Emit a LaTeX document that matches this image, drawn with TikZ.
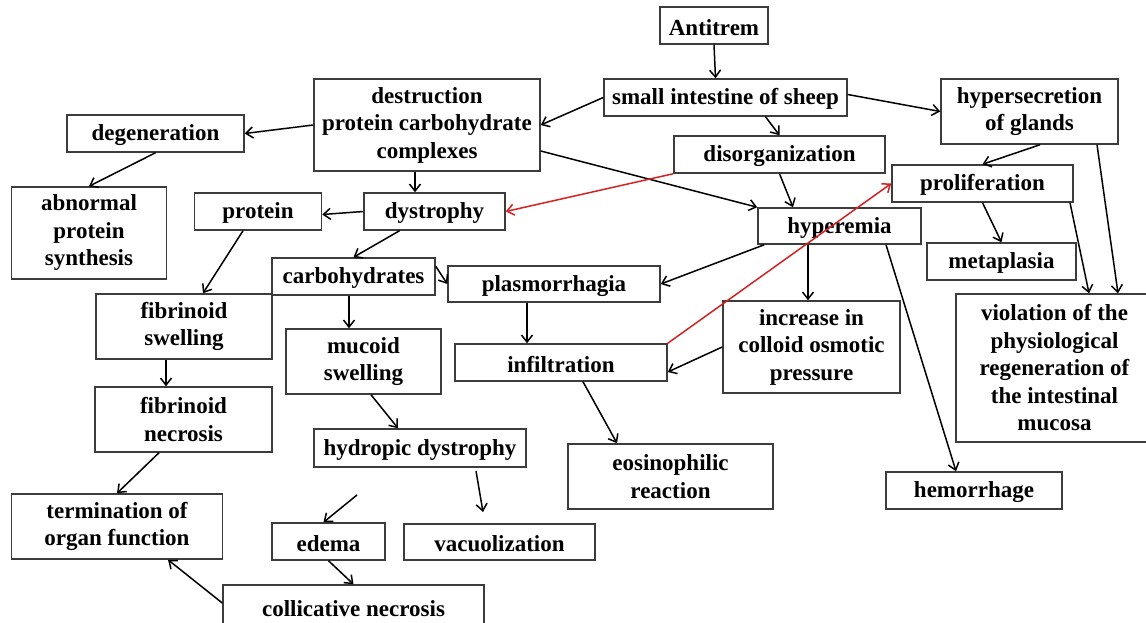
\documentclass[tikz,border=0pt]{standalone}
\usepackage{fontspec}
\setmainfont{Liberation Serif}
\usepackage{tikz}
\usetikzlibrary{positioning,calc,arrows.meta}
\usepackage{xcolor}
\definecolor{boxline}{HTML}{3C3C3C}
\definecolor{redline}{HTML}{D42222}
\tikzset{
  box/.style={draw=boxline,line width=1.5pt,fill=white,align=center,inner sep=2pt,
    font=\fontsize{23}{27.5}\selectfont\bfseries,
    execute at begin node={\rule{0pt}{0.86em}}},
  arr/.style={-{Straight Barb[length=7pt,width=11pt]},line width=1.5pt},
  redarr/.style={arr,draw=redline}
}
\begin{document}
\begin{tikzpicture}[x=1pt,y=-1pt]
      \useasboundingbox (0,0) rectangle (1146,623);
      \clip (0,0) rectangle (1146,623);
      \fill[white] (0,0) rectangle (1146,623);

      \node[box,minimum width=108pt,minimum height=37pt] (anti) at (714,25.5) {Antitrem};
      \node[box,minimum width=243pt,minimum height=37pt] (sis) at (725.5,97.5) {small intestine of sheep};
      \node[box,minimum width=226pt,minimum height=92pt] (destr) at (427,125) {destruction\\protein carbohydrate\\complexes};
      \node[box,minimum width=177pt,minimum height=37pt] (degen) at (155.5,133.5) {degeneration};
      \node[box,minimum width=155pt,minimum height=92pt] (abnorm) at (89,233) {abnormal\\protein\\synthesis};
      \node[box,minimum width=127pt,minimum height=37pt] (prot) at (258,211.5) {protein};
      \node[box,minimum width=141pt,minimum height=37pt] (dystr) at (434.5,211.5) {dystrophy};
      \node[box,minimum width=211pt,minimum height=37pt] (disorg) at (779.5,154.5) {disorganization};
      \node[box,minimum width=177pt,minimum height=65pt] (hypsec) at (1029.5,111.5) {hypersecretion\\of glands};
      \node[box,minimum width=181pt,minimum height=37pt] (prolif) at (982.5,183.5) {proliferation};
      \node[box,minimum width=163pt,minimum height=36pt] (hyper) at (839.5,226) {hyperemia};
      \node[box,minimum width=149pt,minimum height=37pt] (metapl) at (1001.5,261.5) {metaplasia};
      \node[box,minimum width=197pt,minimum height=148pt] (viol) at (1054.5,368) {violation of the\\physiological\\regeneration of\\the intestinal\\mucosa};
      \node[box,minimum width=176pt,minimum height=65pt] (fibsw) at (184,326.5) {fibrinoid\\swelling};
      \node[box,minimum width=163pt,minimum height=37pt] (carb) at (353.5,276.5) {carbohydrates};
      \node[box,minimum width=212pt,minimum height=36pt] (plasm) at (554,284) {plasmorrhagia};
      \node[box,minimum width=177pt,minimum height=65pt] (fibnec) at (183.5,419.5) {fibrinoid\\necrosis};
      \node[box,minimum width=155pt,minimum height=65pt] (mucsw) at (363.5,361.5) {mucoid\\swelling};
      \node[box,minimum width=212pt,minimum height=37pt] (infil) at (561,362.5) {infiltration};
      \node[box,minimum width=177pt,minimum height=92pt] (incr) at (811.5,347) {increase in\\colloid osmotic\\pressure};
      \node[box,minimum width=212pt,minimum height=38pt] (hydro) at (420,448) {hydropic dystrophy};
      \node[box,minimum width=205pt,minimum height=65pt] (eosin) at (670.5,476.5) {eosinophilic\\reaction};
      \node[box,minimum width=176pt,minimum height=37pt] (hemor) at (974,490.5) {hemorrhage};
      \node[box,minimum width=211pt,minimum height=65pt] (termin) at (117,526.5) {termination of\\organ function};
      \node[box,minimum width=113pt,minimum height=37pt] (edema) at (328.5,541.5) {edema};
      \node[box,minimum width=191pt,minimum height=36pt] (vacuol) at (499.5,542) {vacuolization};
      \node[box,minimum width=261pt,minimum height=44pt] (collic) at (353.5,607) {collicative necrosis};

      \coordinate (hv1) at (476,471);
      \coordinate (hv2) at (483,512);
      \coordinate (ed1) at (357,495);

      \draw[arr] (anti.south) -- ([xshift=-10pt]sis.north);
      \draw[arr] (sis.west) -- (destr.east);
      \draw[arr] ([yshift=3pt]sis.east) -- (hypsec.west);
      \draw[arr] ([xshift=40pt]sis.south) -- (disorg.north);
      \draw[arr] (destr.west) -- (degen.east);
      \draw[arr] ([xshift=-12pt]destr.south) -- ([xshift=-19.5pt]dystr.north);
      \draw[arr] ([yshift=-26pt]destr.east) -- (hyper.north west);
      \draw[arr] (degen.south) -- (abnorm.north);
      \draw[arr] (dystr.west) -- ([yshift=-3pt]prot.east);
      \draw[arr] ([xshift=-35pt]dystr.south) -- (carb.north);
      \draw[arr] ([xshift=-15pt]prot.south) -- ([xshift=19pt]fibsw.north);
      \draw[arr] ([yshift=-9pt]carb.north east) -- (plasm.west);
      \draw[arr] ([xshift=-4.5pt]carb.south) -- ([xshift=-14.5pt]mucsw.north);
      \draw[arr] ([xshift=-18pt]fibsw.south) -- ([xshift=-17.5pt]fibnec.north);
      \draw[arr] ([xshift=-24.5pt]fibnec.south) -- (termin.north);
      \draw[arr] ([xshift=7.5pt]mucsw.south) -- ([xshift=-22pt]hydro.north);
      \draw[arr] (hv1) -- (hv2);
      \draw[arr] (ed1) -- ([xshift=-5pt]edema.north);
      \draw[arr] (edema.south) -- (collic.north);
      \draw[arr] ([yshift=4pt]collic.west) -- ([xshift=51pt]termin.south);
      \draw[arr] ([xshift=10.5pt]hypsec.south) -- (prolif.north);
      \draw[arr] ([xshift=67.5pt]hypsec.south) -- ([xshift=63.5pt]viol.north);
      \draw[arr] (prolif.south) -- (metapl.north);
      \draw[arr] ([xshift=87.5pt]prolif.south) -- ([xshift=34.5pt]viol.north);
      \draw[arr] (disorg.south) -- ([xshift=-46.5pt]hyper.north);
      \draw[arr] ([xshift=7pt]hyper.south west) -- (plasm.east);
      \draw[arr] ([xshift=-31.5pt]hyper.south) -- ([xshift=-3.5pt]incr.north);
      \draw[arr] ([xshift=46.5pt]hyper.south) -- ([xshift=-18pt]hemor.north);
      \draw[arr] (incr.west) -- ([yshift=-9.5pt]infil.east);
      \draw[arr] ([xshift=-27pt]plasm.south) -- ([xshift=-34pt]infil.north);
      \draw[arr] ([xshift=22pt]infil.south) -- ([xshift=-53.5pt]eosin.north);
      \draw[redarr] (infil.north east) -- (prolif.west);
      \draw[redarr] (disorg.south west) -- (dystr.east);
\end{tikzpicture}
\end{document}
